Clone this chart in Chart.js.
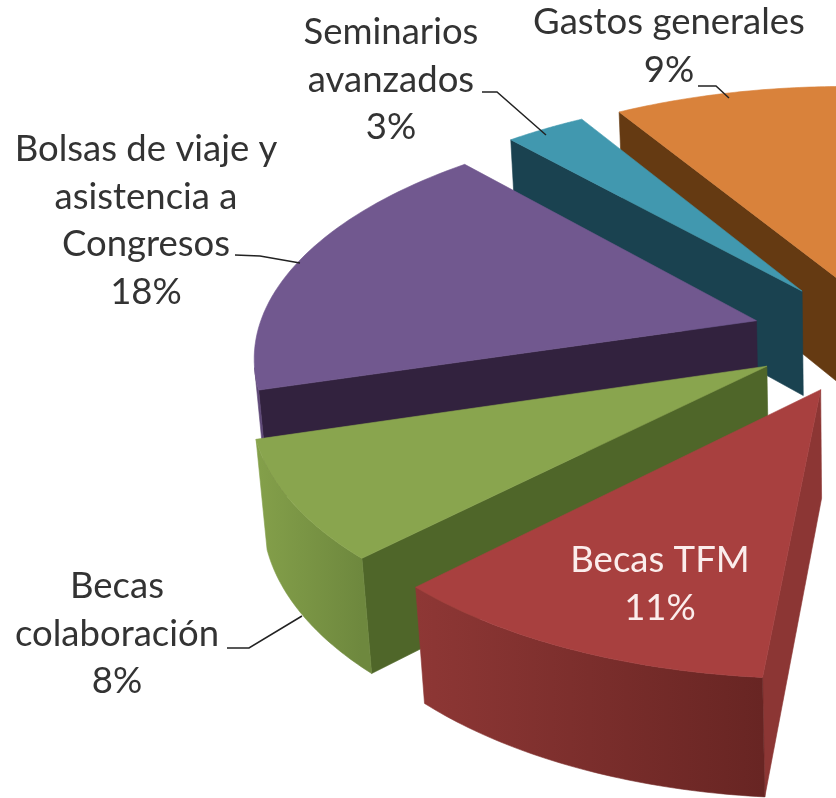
<!DOCTYPE html>
<html><head><meta charset="utf-8">
<style>html,body{margin:0;padding:0;background:#fff;overflow:hidden}canvas{display:block;filter:blur(.5px)}</style>
<script src="https://cdn.jsdelivr.net/npm/chart.js@4"></script></head>
<body><canvas id="c" width="836" height="798"></canvas>
<script>
const categories=["Becas TFM","Becas colaboración","Bolsas de viaje y asistencia a Congresos","Seminarios avanzados","Gastos generales"];
const values=[11,8,18,3,9];
const topColors=["#A8403F","#89A54E","#71588F","#4198AF","#D9823B"];
const wallColors=["#8C3634","#4F6629","#32223E","#1A4250","#653A12"];
const rimColors=[["#8E3735","#682523"],["#84A04A","#6E883E"],["#5E4877","#4F3C66"],["#337C90","#2A6A7C"],["#B06A2E","#A05F28"]];
const labelLines=[["Becas TFM","11%"],["Becas","colaboración","8%"],["Bolsas de viaje y","asistencia a","Congresos","18%"],["Seminarios","avanzados","3%"],["Gastos generales","9%"]];
const labelPos=[[660,572],[117,598],[146,161],[391,44],[669,34]];
const leaders=[null,[[227,648],[249,648],[302,616]],[[235,255],[260,256],[300,263]],[[482,92],[497,92],[546,135]],[[698,86],[716,86],[729,98]]];
const view={cx:873,cy:336,A:500,K:.15,sinT:.47,cosT:.883,h:.245,steps:48};
function project(X,Y,Z){
  const w=1-view.K*(Y*view.cosT+Z*view.sinT);
  return [view.cx+view.A*X/w, view.cy+view.A*(Y*view.sinT-Z*view.cosT)/w];
}
function area(q){let s=0;for(let i=0;i<q.length;i++){const a=q[i],b=q[(i+1)%q.length];s+=a[0]*b[1]-b[0]*a[1];}return s;}
function poly(ctx,q,fill){ctx.beginPath();q.forEach((p,i)=>i?ctx.lineTo(p[0],p[1]):ctx.moveTo(p[0],p[1]));ctx.closePath();ctx.fillStyle=fill;ctx.fill();ctx.strokeStyle=fill;ctx.lineWidth=.6;ctx.stroke();}
const pie3d={id:'pie3d',
  beforeDatasetsDraw(chart){
    const ctx=chart.ctx,arcs=chart.getDatasetMeta(0).data;
    for(let i=arcs.length-1;i>=0;i--){
      const el=arcs[i],R=el.outerRadius,o=el.options.offset/R,mid=(el.startAngle+el.endAngle)/2;
      const ox=Math.cos(mid)*o,oy=Math.sin(mid)*o;
      const rim=[];
      for(let k=0;k<=view.steps;k++){const a=el.startAngle+(el.endAngle-el.startAngle)*k/view.steps;rim.push([ox+Math.cos(a),oy+Math.sin(a)]);}
      const tip=[ox,oy];
      const top=p=>project(p[0],p[1],0),bot=p=>project(p[0],p[1],-view.h);
      const wall=(p,q,fill)=>{const f=[top(p),top(q),bot(q),bot(p)];if(area(f)<0)poly(ctx,f,fill);};
      wall(tip,rim[0],wallColors[i]);
      wall(rim[view.steps],tip,wallColors[i]);
      const xs=rim.map(p=>top(p)[0]);
      const g=ctx.createLinearGradient(Math.min(...xs),0,Math.max(...xs),0);
      g.addColorStop(0,rimColors[i][0]);g.addColorStop(1,rimColors[i][1]);
      const seen=[];
      for(let k=0;k<view.steps;k++){
        const f=[top(rim[k]),top(rim[k+1]),bot(rim[k+1]),bot(rim[k])];
        if(area(f)<0){seen.push(k);}
      }
      if(seen.length){
        const ks=[...seen,seen[seen.length-1]+1];
        poly(ctx,[...ks.map(k=>top(rim[k])),...ks.slice().reverse().map(k=>bot(rim[k]))],g);
      }
      poly(ctx,[top(tip),...rim.map(top)],topColors[i]);
    }
    return false;
  },
  afterDraw(chart){
    const ctx=chart.ctx;
    ctx.save();
    ctx.strokeStyle='#222';ctx.lineWidth=1.5;
    leaders.forEach(l=>{if(!l)return;ctx.beginPath();l.forEach((p,i)=>i?ctx.lineTo(p[0],p[1]):ctx.moveTo(p[0],p[1]));ctx.stroke();});
    ctx.font='36.5px Lato';ctx.textAlign='center';ctx.textBaseline='alphabetic';
    labelLines.forEach((lines,i)=>{
      ctx.fillStyle=i===0?'#FBEDEC':'#333333';
      lines.forEach((t,j)=>ctx.fillText(t,labelPos[i][0],labelPos[i][1]+j*47.5));
    });
    ctx.restore();
  }
};
new Chart(document.getElementById('c'),{
  type:'pie',
  data:{labels:categories,datasets:[{data:values,backgroundColor:topColors,borderWidth:0,offset:122}]},
  options:{responsive:false,animation:false,rotation:184.8,circumference:176.4,radius:500,
    plugins:{legend:{display:false},tooltip:{enabled:false}}},
  plugins:[pie3d]
});
</script></body></html>
